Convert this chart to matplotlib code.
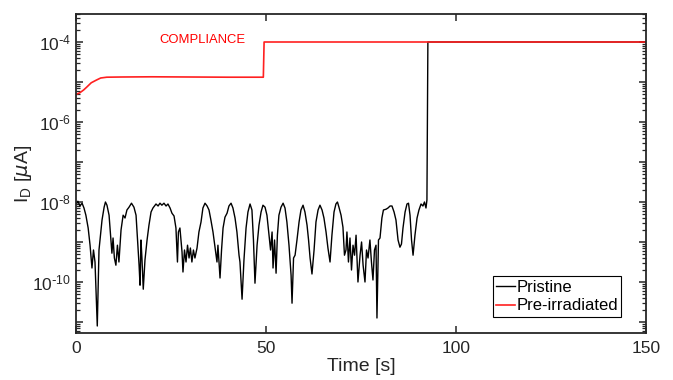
import numpy as np
import matplotlib
matplotlib.use("Agg")
import matplotlib.pyplot as plt
from matplotlib.ticker import FixedLocator, FuncFormatter, NullFormatter

plt.rcParams['font.family'] = ['Liberation Sans', 'DejaVu Sans']
plt.rcParams['mathtext.fontset'] = 'dejavusans'

# ---- data (time in s, log10 of I_D) ----
pristine_t = [0.1, 0.5, 1.05, 1.6, 2.1, 2.6, 3.2, 3.7, 4.2, 4.6, 5.0, 5.6, 6.05, 6.45, 6.85, 7.4, 7.75, 8.15, 8.7, 9.2,
              9.45, 9.75, 10.1, 10.5, 10.9, 11.3, 11.85, 12.4, 12.9, 13.4, 13.95, 14.6, 15.25, 15.8, 16.2, 16.6, 16.85,
              17.1, 17.35, 17.7, 18.15, 18.7, 19.2, 19.75, 20.25, 21.05, 21.6, 22.1, 22.6, 23.15, 23.7, 24.2, 24.75,
              25.25, 25.8, 26.3, 26.7, 26.95, 27.35, 27.9, 28.15, 28.55, 28.95, 29.35, 29.75, 30.1, 30.5, 30.9, 31.3,
              31.85, 32.35, 32.9, 33.4, 33.95, 34.5, 35.0, 35.5, 36.05, 36.6, 37.1, 37.35, 37.9, 38.3, 38.7, 39.2,
              39.75, 40.25, 40.8, 41.3, 41.85, 42.35, 42.9, 43.15, 43.7, 44.2, 44.75, 45.25, 45.8, 46.3, 46.7, 47.1,
              47.65, 48.15, 48.7, 49.2, 49.75, 50.25, 50.8, 51.2, 51.6, 51.85, 52.25, 52.65, 53.0, 53.4, 53.95, 54.5,
              55.0, 55.5, 56.05, 56.6, 56.85, 57.25, 57.65, 58.15, 58.7, 59.2, 59.75, 60.25, 60.8, 61.2, 61.6, 62.1,
              62.65, 63.15, 63.7, 64.2, 64.75, 65.25, 65.8, 66.3, 66.85, 67.35, 67.9, 68.4, 68.8, 69.2, 69.75, 70.25,
              70.65, 71.05, 71.3, 71.7, 72.1, 72.5, 72.9, 73.3, 73.7, 74.2, 74.75, 75.15, 75.55, 76.05, 76.45, 76.85,
              77.35, 77.75, 78.15, 78.55, 78.95, 79.2, 79.6, 80.0, 80.5, 80.9, 81.6, 82.1, 82.65, 83.15, 83.7, 84.2,
              84.75, 85.25, 85.65, 86.05, 86.6, 87.1, 87.5, 87.9, 88.3, 88.7, 89.2, 89.75, 90.25, 90.8, 91.3, 91.7,
              92.1, 92.35, 92.6, 150.0]
pristine_log = [-8.05, -7.98, -8.1, -8.03, -8.15, -8.33, -8.65, -9.08, -9.65, -9.2, -9.5, -11.1, -9.2, -8.83, -8.45,
                -8.13, -8.0, -8.08, -8.33, -8.95, -9.28, -8.9, -9.4, -9.58, -9.08, -9.5, -8.7, -8.33, -8.4, -8.2,
                -8.13, -8.03, -8.13, -8.33, -8.95, -9.58, -10.08, -8.95, -9.4, -10.18, -9.45, -8.95, -8.58, -8.25,
                -8.15, -8.05, -8.1, -8.03, -8.08, -8.03, -8.1, -8.05, -8.15, -8.28, -8.35, -8.65, -9.5, -8.75, -8.65,
                -9.25, -9.75, -9.2, -9.5, -9.08, -9.4, -9.15, -9.5, -9.2, -9.4, -9.15, -8.75, -8.5, -8.15, -8.03,
                -8.1, -8.2, -8.45, -8.75, -9.15, -9.5, -9.08, -9.9, -9.2, -8.65, -8.38, -8.28, -8.1, -8.03, -8.15,
                -8.4, -8.75, -9.33, -9.5, -10.43, -9.45, -8.65, -8.25, -8.05, -8.2, -8.95, -10.03, -9.08, -8.58,
                -8.25, -8.08, -8.13, -8.33, -8.83, -9.2, -8.75, -9.65, -8.95, -9.78, -8.83, -8.33, -8.13, -8.03,
                -8.15, -8.5, -9.08, -9.83, -10.53, -9.4, -9.33, -8.95, -8.5, -8.2, -8.08, -8.25, -8.58, -8.95, -9.4,
                -9.8, -9.2, -8.5, -8.2, -8.08, -8.2, -8.4, -8.75, -9.15, -9.5, -8.83, -8.25, -8.05, -8.0, -8.13,
                -8.33, -8.63, -9.33, -9.2, -8.75, -9.5, -8.9, -9.7, -9.08, -9.33, -8.83, -10.0, -9.33, -9.0, -9.58,
                -10.0, -9.2, -9.4, -8.95, -9.5, -9.95, -9.2, -9.08, -10.9, -8.95, -8.9, -8.4, -8.2, -8.18, -8.15,
                -8.1, -8.1, -8.25, -8.45, -8.95, -9.13, -9.05, -8.65, -8.25, -8.05, -8.03, -8.33, -8.95, -9.33,
                -8.83, -8.4, -8.2, -8.05, -8.1, -8.0, -8.15, -7.95, -4.0, -4.0]

irradiated_t = [0.0, 1.0, 2.0, 2.8, 4.0, 5.4, 6.5, 8.1, 12.0, 20.0, 30.0, 40.0, 49.3, 49.5, 150.0]
irradiated_log = [-5.31, -5.27, -5.2, -5.13, -5.02, -4.95, -4.9, -4.88, -4.875, -4.87, -4.875, -4.88, -4.88, -4.0, -4.0]

x_ticks = [0, 50, 100, 150]
y_label_exps = [-10, -8, -6, -4]

fig = plt.figure(figsize=(6.73, 3.8), dpi=100)
ax = fig.add_axes([76/673, 1-333/380, (646-76)/673, (333-14)/380])

ax.plot(pristine_t, 10.0**np.array(pristine_log), color='black', lw=1.0, label='Pristine')
ax.plot(irradiated_t, 10.0**np.array(irradiated_log), color='#ff2020', lw=1.2, label='Pre-irradiated')

ax.set_yscale('log')
ax.set_xlim(0, 150)
ax.set_ylim(10**-11.275, 10**-3.3)
ax.set_xticks(x_ticks)

majors = [10.0**e for e in range(-11, -2)]
ax.yaxis.set_major_locator(FixedLocator(majors))
def fmt(v, pos):
    e = int(round(np.log10(v)))
    if e in y_label_exps:
        return r'$\mathregular{10^{\text{-}%d}}$' % abs(e)
    return ''
ax.yaxis.set_major_formatter(FuncFormatter(fmt))
minors = [m * 10.0**e for e in range(-12, -2) for m in range(2, 10)]
ax.yaxis.set_minor_locator(FixedLocator(minors))
ax.yaxis.set_minor_formatter(NullFormatter())

for s in ax.spines.values():
    s.set_linewidth(1.3)
    s.set_color('#262626')
ax.tick_params(which='both', direction='in', top=True, right=True, colors='#262626',
               labelcolor='#262626', labelsize=12.5)
ax.tick_params(which='major', length=5, width=1.1)
ax.tick_params(which='minor', length=3, width=0.9)
ax.tick_params(axis='x', which='major', pad=6)
ax.tick_params(axis='x', which='minor', top=False, bottom=False)

ax.set_xlabel('Time [s]', fontsize=14, color='#262626', labelpad=1)
ax.set_ylabel(r'I$_{\mathregular{D}}$ [$\mu$A]', fontsize=14, color='#262626', labelpad=-1)

ax.text(33.2, 10**-3.95, 'COMPLIANCE', color='red', fontsize=9.4, ha='center', va='center')

leg = ax.legend(loc='lower right', bbox_to_anchor=(0.957, 0.05), fontsize=12, frameon=True, fancybox=False,
                edgecolor='black', framealpha=1, handlelength=1.1, handletextpad=0.1, borderpad=0.22,
                labelspacing=0.22, borderaxespad=0)
leg.get_frame().set_linewidth(0.8)

fig.savefig('out.png', dpi=100)
